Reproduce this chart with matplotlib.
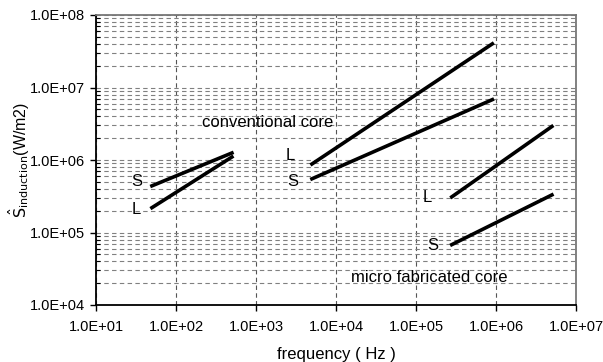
import matplotlib
matplotlib.use("Agg")
from matplotlib import pyplot as plt
from matplotlib.ticker import LogLocator, FixedLocator

plt.rcParams['font.family'] = ['Liberation Sans', 'DejaVu Sans']

# frequency (Hz) / power density (W/m2), start and end of each line
low_freq = [50, 500]
low_S = [4.4e5, 1.25e6]
low_L = [2.2e5, 1.1e6]

conv_freq = [5e3, 9e5]
conv_L = [8.8e5, 4.0e7]
conv_S = [5.5e5, 6.8e6]

micro_freq = [2.8e5, 5e6]
micro_L = [3.1e5, 2.9e6]
micro_S = [6.8e4, 3.3e5]

xticks = [1e1, 1e2, 1e3, 1e4, 1e5, 1e6, 1e7]
yticks = [1e4, 1e5, 1e6, 1e7, 1e8]
xticklabels = ['1.0E+01', '1.0E+02', '1.0E+03', '1.0E+04', '1.0E+05', '1.0E+06', '1.0E+07']
yticklabels = ['1.0E+04', '1.0E+05', '1.0E+06', '1.0E+07', '1.0E+08']

fig = plt.figure(figsize=(6.03, 3.62), dpi=100)
ax = fig.add_axes([96 / 603, 1 - 305 / 362, 480 / 603, 290 / 362])

ax.set_xscale('log')
ax.set_yscale('log')
ax.set_xlim(1e1, 1e7)
ax.set_ylim(1e4, 1e8)

# grid
ax.set_xticks(xticks)
ax.set_xticklabels(xticklabels, fontsize=10.5)
ax.set_yticks(yticks)
ax.set_yticklabels(yticklabels, fontsize=10.5)
ax.xaxis.set_minor_locator(FixedLocator([]))
ax.yaxis.set_minor_locator(LogLocator(base=10, subs=range(2, 10)))
ax.yaxis.set_minor_formatter(plt.NullFormatter())
ax.grid(True, which='major', axis='x', color='#555555', linestyle=(0, (4, 3)), linewidth=0.8)
ax.grid(True, which='both', axis='y', color='#808080', linestyle=(0, (4, 3)), linewidth=0.8)
ax.tick_params(which='major', direction='out', length=4, width=1)
ax.tick_params(which='major', axis='x', pad=7)
ax.tick_params(which='major', axis='y', pad=4)
ax.tick_params(which='minor', axis='y', direction='in', length=3, width=0.8)

for s in ['left', 'bottom']:
    ax.spines[s].set_color('black')
    ax.spines[s].set_linewidth(1.3)
for s in ['top', 'right']:
    ax.spines[s].set_color('#777777')
    ax.spines[s].set_linewidth(1.3)

lw = 2.6
ax.plot(low_freq, low_S, color='black', lw=lw)
ax.plot(low_freq, low_L, color='black', lw=lw)
ax.plot(conv_freq, conv_L, color='black', lw=lw)
ax.plot(conv_freq, conv_S, color='black', lw=lw)
ax.plot(micro_freq, micro_L, color='black', lw=lw)
ax.plot(micro_freq, micro_S, color='black', lw=lw)

fs = 12
ax.text(32, 5.0e5, 'S', fontsize=fs, ha='center', va='center')
ax.text(32, 2.05e5, 'L', fontsize=fs, ha='center', va='center')
ax.text(2.7e3, 1.17e6, 'L', fontsize=fs, ha='center', va='center')
ax.text(2.9e3, 5.0e5, 'S', fontsize=fs, ha='center', va='center')
ax.text(1.4e5, 3.0e5, 'L', fontsize=fs, ha='center', va='center')
ax.text(1.6e5, 6.6e4, 'S', fontsize=fs, ha='center', va='center')
ax.text(1.4e3, 3.3e6, 'conventional core', fontsize=fs, ha='center', va='center')
ax.text(1.45e5, 2.4e4, 'micro fabricated core', fontsize=fs, ha='center', va='center')

ax.set_xlabel('frequency ( Hz )', fontsize=12, labelpad=9)
ax.set_ylabel(r'$\hat{\mathrm{S}}_{\mathrm{induction}}$(W/m2)', fontsize=11.5)
ax.yaxis.set_label_coords(-64 / 480, 0.5)

fig.savefig('out.png', dpi=100)
